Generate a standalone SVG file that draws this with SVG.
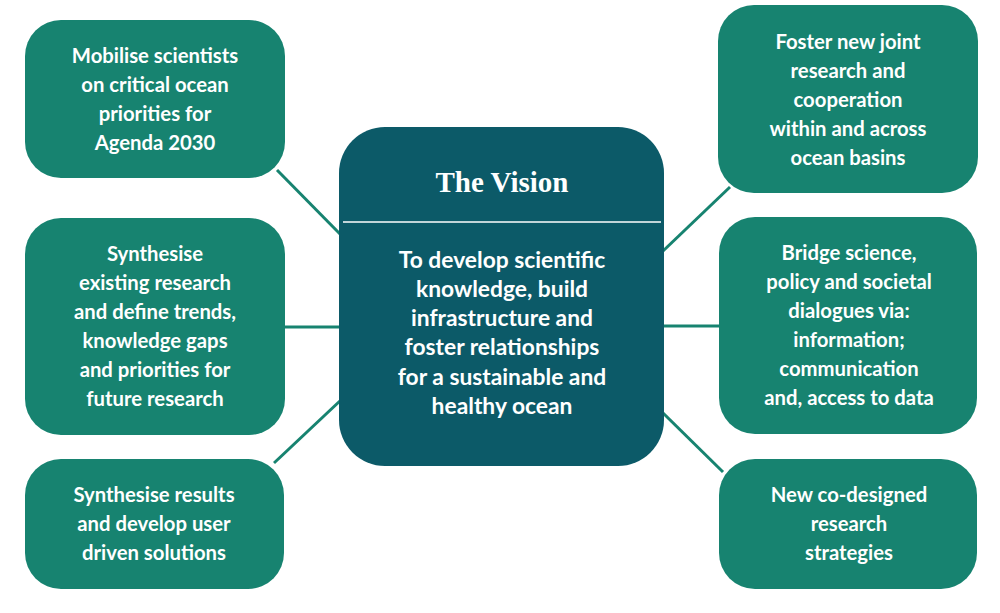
<svg xmlns="http://www.w3.org/2000/svg" width="1000" height="613" viewBox="0 0 1000 613">
<style>
.box{fill:#178370}
.center{fill:#0c5a68}
.t{font-family:Lato,"Liberation Sans",sans-serif;font-weight:700;font-size:20.3px;fill:#ffffff;text-anchor:middle}
.ct{font-family:Lato,"Liberation Sans",sans-serif;font-weight:700;font-size:22.8px;fill:#ffffff;text-anchor:middle}
.title{font-family:"Liberation Serif","DejaVu Serif",serif;font-weight:700;font-size:29px;fill:#ffffff;text-anchor:middle}
.c{stroke:#178370;stroke-width:3;fill:none}
</style>
<rect width="1000" height="613" fill="#ffffff"/>
<g id="connectors">
<line class="c" x1="277" y1="170" x2="341" y2="235"/>
<line class="c" x1="284" y1="327" x2="341" y2="327"/>
<line class="c" x1="341" y1="400" x2="274" y2="463"/>
<line class="c" x1="663" y1="251" x2="730" y2="187"/>
<line class="c" x1="663" y1="326" x2="720" y2="326"/>
<line class="c" x1="663" y1="413" x2="723" y2="472"/>
</g>
<g id="vision">
<rect class="center" x="339" y="127" width="325" height="339" rx="46"/>
<text class="title" x="502" y="192">The Vision</text>
<line x1="343" y1="222" x2="661" y2="222" stroke="#ffffff" stroke-width="1.5"/>
<text class="ct" x="502" y="268">To develop scientific</text>
<text class="ct" x="502" y="297">knowledge, build</text>
<text class="ct" x="502" y="326">infrastructure and</text>
<text class="ct" x="502" y="355">foster relationships</text>
<text class="ct" x="502" y="385">for a sustainable and</text>
<text class="ct" x="502" y="414">healthy ocean</text>
</g>
<g id="mobilise">
<rect class="box" x="25" y="20" width="260" height="158" rx="36"/>
<text class="t" x="155" y="63">Mobilise scientists</text>
<text class="t" x="155" y="92">on critical ocean</text>
<text class="t" x="155" y="121">priorities for</text>
<text class="t" x="155" y="150">Agenda 2030</text>
</g>
<g id="synthesise-research">
<rect class="box" x="25" y="218" width="260" height="217" rx="36"/>
<text class="t" x="155" y="261">Synthesise</text>
<text class="t" x="155" y="290">existing research</text>
<text class="t" x="155" y="319">and define trends,</text>
<text class="t" x="155" y="348">knowledge gaps</text>
<text class="t" x="155" y="377">and priorities for</text>
<text class="t" x="155" y="406">future research</text>
</g>
<g id="synthesise-results">
<rect class="box" x="25" y="459" width="259" height="130" rx="36"/>
<text class="t" x="154" y="502">Synthesise results</text>
<text class="t" x="154" y="531">and develop user</text>
<text class="t" x="154" y="560">driven solutions</text>
</g>
<g id="foster">
<rect class="box" x="718" y="5" width="260" height="188" rx="36"/>
<text class="t" x="848" y="49">Foster new joint</text>
<text class="t" x="848" y="78">research and</text>
<text class="t" x="848" y="107">cooperation</text>
<text class="t" x="848" y="136">within and across</text>
<text class="t" x="848" y="165">ocean basins</text>
</g>
<g id="bridge">
<rect class="box" x="719" y="217" width="258" height="217" rx="36"/>
<text class="t" x="849" y="260">Bridge science,</text>
<text class="t" x="849" y="289">policy and societal</text>
<text class="t" x="849" y="318">dialogues via:</text>
<text class="t" x="849" y="347">information;</text>
<text class="t" x="849" y="376">communication</text>
<text class="t" x="849" y="405">and, access to data</text>
</g>
<g id="codesigned">
<rect class="box" x="719" y="459" width="258" height="130" rx="36"/>
<text class="t" x="849" y="502">New co-designed</text>
<text class="t" x="849" y="531">research</text>
<text class="t" x="849" y="560">strategies</text>
</g>
</svg>
